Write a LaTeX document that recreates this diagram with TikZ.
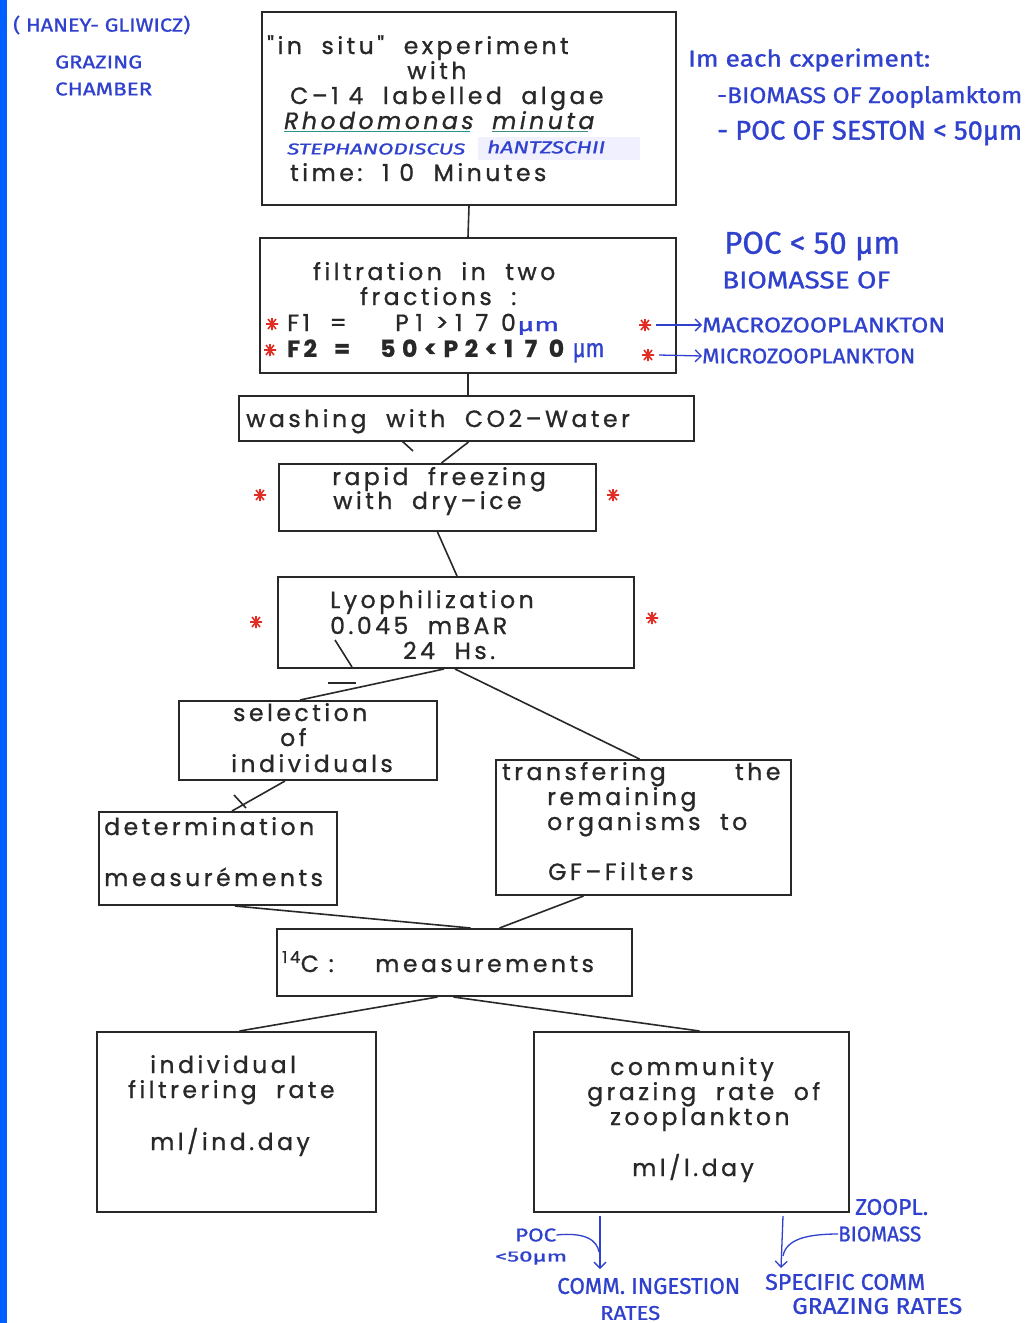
\documentclass[tikz,border=0pt]{standalone}
\usepackage{fontspec}
\usepackage{graphicx}
\setmainfont{Poppins}
\newfontfamily\tw[LetterSpace=15,FakeBold=1]{Poppins}
\newfontfamily\twwide[LetterSpace=28,FakeBold=1]{Poppins}
\newfontfamily\hw[FakeBold=1]{Fira Sans}
\usetikzlibrary{arrows.meta,calc}
\definecolor{hwblue}{RGB}{48,66,205}
\definecolor{stred}{RGB}{225,45,35}
\definecolor{barblue}{RGB}{0,96,255}
\definecolor{ink}{RGB}{40,40,40}
\definecolor{ulteal}{RGB}{40,150,140}
\newcommand{\hwfit}[3]{\resizebox{#1pt}{#2pt}{\hw #3}}
\tikzset{
 box/.style={draw=ink, line width=2pt, inner sep=0pt},
 tt/.style={anchor=base west, inner sep=0pt, font=\tw\fontsize{23.5}{26}\selectfont, text=ink},
 ttb/.style={tt, font=\tw\bfseries\fontsize{23.5}{26}\selectfont},
 tti/.style={tt, font=\tw\itshape\fontsize{23.5}{26}\selectfont},
 hwt/.style={anchor=west, inner sep=0pt, text=hwblue},
 conn/.style={draw=ink, line width=1.6pt},
 hwline/.style={draw=hwblue, line width=1.3pt},
 rstar/.pic={\draw[stred,line width=1.6pt] (-6,0)--(6,0) (-4,-5)--(4,5) (4,-5)--(-4,5) (0,-6)--(0,6);}
}
\begin{document}
\begin{tikzpicture}[x=1pt,y=-1pt]
\useasboundingbox (0,0) rectangle (1035,1323);
\fill[white] (0,0) rectangle (1035,1323);
\fill[barblue] (0,0) rectangle (7,1323);

% ---------- boxes ----------
\node[box, minimum width=414pt, minimum height=193pt] (top) at (469,108.5) {};
\node[box, minimum width=416pt, minimum height=135pt] (filt) at (468,305.5) {};
\node[box, minimum width=455pt, minimum height=45pt] (wash) at (466.5,418.5) {};
\node[box, minimum width=317pt, minimum height=67pt] (freeze) at (437.5,497.5) {};
\node[box, minimum width=356pt, minimum height=91pt] (lyo) at (456,622.5) {};
\node[box, minimum width=258pt, minimum height=79pt] (sel) at (308,740.5) {};
\node[box, minimum width=295pt, minimum height=135pt] (trans) at (643.5,827.5) {};
\node[box, minimum width=238pt, minimum height=93pt] (det) at (218,858.5) {};
\node[box, minimum width=355pt, minimum height=67pt] (meas) at (454.5,962.5) {};
\node[box, minimum width=279pt, minimum height=180pt] (ind) at (236.5,1122) {};
\node[box, minimum width=315pt, minimum height=180pt] (com) at (691.5,1122) {};

% ---------- connectors ----------
\draw[conn] (top.south) -- (filt.north);
\draw[conn] (filt.south) -- (wash.north -| filt.south);
\draw[conn] ([xshift=2pt]wash.south) -- ([xshift=4pt]freeze.north);
\draw[conn] ([xshift=0pt]freeze.south) -- ([xshift=1pt]lyo.north);
\draw[conn] ([xshift=-12pt]lyo.south) -- ([xshift=-8pt]sel.north);
\draw[conn] ([xshift=-1pt]lyo.south) -- ([xshift=-4pt]trans.north);
\draw[conn] ([xshift=-23pt]sel.south) -- ([xshift=14pt]det.north);
\draw[conn] ([xshift=17pt]det.south) -- ([xshift=16pt]meas.north);
\draw[conn] ([xshift=-60pt]trans.south) -- ([xshift=45pt]meas.north);
\draw[conn] ([xshift=-17pt]meas.south) -- ([xshift=3pt]ind.north);
\draw[conn] ([xshift=-1pt]meas.south) -- ([xshift=8pt]com.north);
% stray pen marks
\draw[conn] (402,441) -- (413,451);
\draw[conn] (335,640) -- (352,667);
\draw[conn] (328,683) -- (356,683);
\draw[conn] (234,795) -- (246,808);

% ---------- typed text ----------
\node[tt] (t1) at (267,54) {"in\ \ situ"\ \ experiment};
\node[tt] (t2) at (407,79) {with};
\node[tt] (t3) at (290,104) {C–1 4\ \ labelled\ \ algae};
\node[tti] (t4a) at (284,129) {Rhodomonas};
\node[tti] (t4b) at (492,129) {minuta};
\draw[ulteal, line width=1.5pt] (t4a.south west) ++(0,2) -- ++(186,0);
\draw[ulteal!70!gray, line width=1.5pt] (t4b.south west) ++(0,2) -- ++(96,0);
\fill[blue!6] (478,137) rectangle (640,160);
\node[hwt] (steph) at (287,149) {\hwfit{178}{11}{\itshape STEPHANODISCUS}};
\node[hwt] (hantz) at (487,147) {\hwfit{118}{13}{\itshape hANTZSCHII}};
\node[tt] (t6) at (290,181) {time:\ \ 1 0\ \ Minutes};

\node[tt] (f1) at (313,280) {filtration\ \ in\ \ two};
\node[tt] (f2) at (360,305) {fractions\ \ :};
\pic at (272,324) {rstar};
\node[tt] (f3a) at (287,331) {F1\ \ =};
\node[tt, font=\twwide\fontsize{23.5}{26}\selectfont] (f3b) at (395,331) {P1 >1 7 0};
\node[hwt, anchor=base west] (f3c) at ([xshift=1pt]f3b.base east) {\hwfit{42}{10}{µm}};
\pic at (270,350) {rstar};
\node[ttb] (f4a) at (287,357) {F2\ \ =};
\node[tt, font=\twwide\bfseries\fontsize{23.5}{26}\selectfont] (f4b) at (380,357) {50<P2<1 7 0};
\node[hwt, anchor=base west] (f4c) at ([xshift=8pt]f4b.base east) {\hwfit{32}{14}{µm}};

\node[tt] (w1) at (246,427) {washing\ \ with\ \ CO2–Water};
\node[tt] (r1) at (332,485) {rapid\ \ freezing};
\node[tt] (r2) at (333,509) {with\ \ dry–ice};
\node[tt] (l1) at (330,608) {Lyophilization};
\node[tt] (l2) at (330,634) {0.045\ \ mBAR};
\node[tt] (l3) at (403,659) {24\ \ Hs.};
\node[tt] (s1) at (233,721) {selection};
\node[tt] (s2) at (280,746) {of};
\node[tt] (s3) at (231,772) {individuals};
\node[tt] (tr1) at (502,780) {transfering};
\node[tt] (tr1b) at (735,780) {the};
\node[tt] (tr2) at (547,805) {remaining};
\node[tt] (tr3) at (547,830) {organisms\ \ to};
\node[tt] (tr4) at (548,880) {GF–Filters};
\node[tt] (d1) at (104,835) {determination};
\node[tt] (d2) at (104,886) {measuréments};
\node[tt] (m1) at (282,972) {\textsuperscript{14}C :};
\node[tt] (m2) at (375,972) {measurements};
\node[tt] (i1) at (150,1073) {individual};
\node[tt] (i2) at (128,1098) {filtrering\ \ rate};
\node[tt] (i3) at (150,1150) {ml/ind.day};
\node[tt] (c1) at (610,1075) {community};
\node[tt] (c2) at (587,1100) {grazing\ \ rate\ \ of};
\node[tt] (c3) at (610,1125) {zooplankton};
\node[tt] (c4) at (632,1176) {ml/l.day};

% ---------- red stars ----------
\pic at (260,495) {rstar};
\pic at (613,495) {rstar};
\pic at (256,622) {rstar};
\pic at (652,618) {rstar};
\pic at (645,325) {rstar};
\pic at (648,355) {rstar};

% ---------- handwritten notes ----------
\node[hwt] (h1) at (13,25) {\hwfit{177}{16}{( HANEY- GLIWICZ)}};
\node[hwt] (h2) at (55,62) {\hwfit{87}{13}{GRAZING}};
\node[hwt] (h3) at (55,89) {\hwfit{97}{13}{CHAMBER}};
\node[hwt] (h4) at (688,60) {\hwfit{242}{18}{Im each cxperiment:}};
\node[hwt] (h5) at (717,97) {\hwfit{305}{17}{-BIOMASS OF Zooplamktom}};
\node[hwt] (h6) at (717,133) {\hwfit{305}{19}{- POC OF SESTON < 50µm}};
\node[hwt] (h7) at (724,246) {\hwfit{176}{22}{POC < 50 µm}};
\node[hwt] (h8) at (722,280) {\hwfit{168}{17}{BIOMASSE OF}};
\node[hwt] (macro) at (702,325) {\hwfit{243}{15}{MACROZOOPLANKTON}};
\node[hwt] (micro) at (702,356) {\hwfit{213}{15}{MICROZOOPLANKTON}};
\coordinate (sa) at (656,325);
\coordinate (sb) at (659,355);
\draw[hwline,-{Straight Barb[length=6pt]}] (sa) -- (macro.west);
\draw[hwline,-{Straight Barb[length=6pt]}] (sb) -- (micro.west);

\node[hwt] (zoopl) at (855,1207) {\hwfit{73}{16}{ZOOPL.}};
\node[hwt] (biom) at (838,1234) {\hwfit{83}{15}{BIOMASS}};
\node[hwt] (spec1) at (765,1282) {\hwfit{160}{16}{SPECIFIC COMM}};
\node[hwt] (spec2) at (792,1306) {\hwfit{170}{16}{GRAZING RATES}};
\node[hwt] (poc) at (515,1235) {\hwfit{41}{13}{POC}};
\node[hwt] (poc2) at (495,1258) {\hwfit{72}{10}{<50µm}};
\node[hwt] (ing1) at (557,1286) {\hwfit{183}{16}{COMM. INGESTION}};
\node[hwt] (ing2) at (600,1313) {\hwfit{60}{14}{RATES}};

\coordinate (aa) at (600,1216);
\coordinate (ab) at (600,1269);
\draw[hwline,-{Straight Barb[length=6pt]}] (aa) -- (ab);
\draw[hwline] (poc.east) .. controls (585,1232) and (597,1240) .. (599,1252);
\coordinate (ba) at (783,1216);
\coordinate (bb) at (781,1268);
\draw[hwline,-{Straight Barb[length=6pt]}] (ba) -- (bb);
\draw[hwline] (biom.west) .. controls (805,1234) and (786,1240) .. (783,1256);
\end{tikzpicture}
\end{document}
